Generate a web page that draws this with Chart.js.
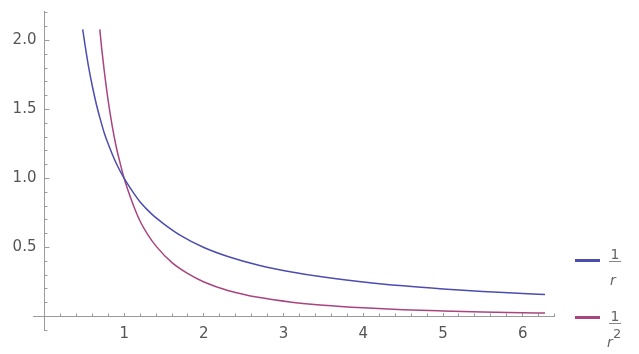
<!DOCTYPE html>
<html><head><meta charset="utf-8">
<script src="https://cdn.jsdelivr.net/npm/chart.js@4/dist/chart.umd.min.js"></script>
<style>html,body{margin:0;padding:0;background:#fff}#wrap{width:639px;height:354px;position:relative}</style>
</head><body><div id="wrap"><canvas id="c" width="639" height="354"></canvas></div>
<script>
// ---- data ----
const rInv      = [0.48,0.5,0.55,0.6,0.65,0.7,0.75,0.8,0.9,1.0,1.1,1.2,1.35,1.5,1.7,2.0,2.3,2.7,3.1,3.5,4.0,4.5,5.0,5.5,6.0,6.28];
const valInv    = [2.08,2.0,1.82,1.67,1.54,1.43,1.33,1.25,1.11,1.0,0.91,0.83,0.74,0.67,0.59,0.5,0.435,0.37,0.323,0.286,0.25,0.222,0.2,0.182,0.167,0.159];
const rInvSq    = [0.694,0.72,0.75,0.8,0.85,0.9,0.95,1.0,1.1,1.2,1.3,1.4,1.6,1.8,2.0,2.3,2.7,3.1,3.5,4.0,4.5,5.0,5.5,6.0,6.28];
const valInvSq  = [2.08,1.93,1.78,1.56,1.38,1.23,1.11,1.0,0.83,0.69,0.59,0.51,0.39,0.31,0.25,0.189,0.137,0.104,0.082,0.063,0.049,0.04,0.033,0.028,0.025];
const seriesNames = ['1/r','1/r²'];
const legendNum = ['1','1'];
const legendDen = ['r','r'];
const legendSup = ['','2'];
const xMajorTicks = [1,2,3,4,5,6];
const xTickLabels = ['1','2','3','4','5','6'];
const xMinorTicks = [0.2,0.4,0.6,0.8,1.2,1.4,1.6,1.8,2.2,2.4,2.6,2.8,3.2,3.4,3.6,3.8,4.2,4.4,4.6,4.8,5.2,5.4,5.6,5.8,6.2,6.4];
const yMajorTicks = [0.5,1.0,1.5,2.0];
const yTickLabels = ['0.5','1.0','1.5','2.0'];
const yMinorTicks = [-0.1,0.1,0.2,0.3,0.4,0.6,0.7,0.8,0.9,1.1,1.2,1.3,1.4,1.6,1.7,1.8,1.9,2.1,2.2];

const BLUE = '#4d4db0';
const RED  = '#a8457f';
const colors = [BLUE, RED];
const AX = '#9a9a9a';
const LBL = '#555555';
Chart.defaults.font.family = "'DejaVu Sans'";

const X_MIN = -0.144, X_MAX = 6.4, Y_MIN = -0.1, Y_MAX = 2.21;

function axisX(ticks, labels, len, show) {
  return {
    type: 'linear', min: X_MIN, max: X_MAX, position: {y: 0},
    afterFit: s => { s.height = 0; s.paddingLeft = 0; s.paddingRight = 0; s.paddingTop = 0; s.paddingBottom = 0; },
    afterBuildTicks: s => { s.ticks = ticks.map(v => ({value: v})); },
    grid: {drawOnChartArea: false, drawTicks: true, tickLength: -len, tickColor: AX, tickWidth: 1},
    border: {display: show, color: AX, width: 1},
    ticks: {autoSkip: false, maxRotation: 0, padding: 13, color: LBL, font: {size: 15},
      callback: (v, i) => labels ? labels[i] : ''}
  };
}
function axisY(ticks, labels, len, show) {
  return {
    type: 'linear', min: Y_MIN, max: Y_MAX, position: 'left',
    afterFit: s => { s.width = 0; s.paddingLeft = 0; s.paddingRight = 0; s.paddingTop = 0; s.paddingBottom = 0; },
    afterBuildTicks: s => { s.ticks = ticks.map(v => ({value: v})); },
    grid: {drawOnChartArea: false, drawTicks: true, tickLength: -len, tickColor: AX, tickWidth: 1},
    border: {display: show, color: AX, width: 1},
    ticks: {autoSkip: false, padding: len + 8, color: LBL, font: {size: 15},
      callback: (v, i) => labels ? labels[i] : ''}
  };
}

// put the vertical axis on x = 0 (axes cross at the origin)
const crossAxes = {
  id: 'crossAxes',
  afterLayout(chart) {
    const px = chart.scales.x.getPixelForValue(0);
    ['y', 'y2'].forEach(id => { const s = chart.scales[id]; s.left = 0; s.right = px; s.width = px; });
  }
};

const legendPlugin = {
  id: 'fracLegend',
  afterDraw(chart) {
    const ctx = chart.ctx;
    const lineY = [260.5, 317.5];
    const barY = [261.5, 323.5];
    ctx.save();
    for (let i = 0; i < seriesNames.length; i++) {
      ctx.strokeStyle = colors[i];
      ctx.lineWidth = 3;
      ctx.beginPath(); ctx.moveTo(575, lineY[i]); ctx.lineTo(600, lineY[i]); ctx.stroke();
      ctx.strokeStyle = '#888'; ctx.lineWidth = 1;
      ctx.beginPath(); ctx.moveTo(609, barY[i]); ctx.lineTo(621, barY[i]); ctx.stroke();
      ctx.fillStyle = '#666';
      ctx.textBaseline = 'alphabetic';
      ctx.textAlign = 'center';
      ctx.font = "14px 'DejaVu Sans'";
      ctx.fillText(legendNum[i], 615, barY[i] - 3);
      ctx.textAlign = 'left';
      ctx.font = "italic 14px 'DejaVu Sans'";
      ctx.fillText(legendDen[i], legendSup[i] ? 607 : 610, barY[i] + 23);
      if (legendSup[i]) {
        ctx.font = "13px 'DejaVu Sans'";
        ctx.fillText(legendSup[i], 613, barY[i] + 14);
      }
    }
    ctx.restore();
  }
};

new Chart(document.getElementById('c'), {
  type: 'scatter',
  data: {
    datasets: [
      {label: seriesNames[0], data: rInv.map((r, i) => ({x: r, y: valInv[i]})), xAxisID: 'x', yAxisID: 'y'},
      {label: seriesNames[1], data: rInvSq.map((r, i) => ({x: r, y: valInvSq[i]})), xAxisID: 'x', yAxisID: 'y'}
    ].map((d, i) => Object.assign(d, {showLine: true, borderColor: colors[i], backgroundColor: colors[i],
      borderWidth: 1.5, pointRadius: 0, cubicInterpolationMode: 'monotone', fill: false}))
  },
  options: {
    responsive: false, animation: false, events: [],
    layout: {padding: {left: 33, right: 84.4, top: 11.5, bottom: 23.7}},
    plugins: {legend: {display: false}, tooltip: {enabled: false}},
    scales: {
      x: axisX(xMajorTicks, xTickLabels, 4, true),
      x2: axisX(xMinorTicks, null, 2.5, false),
      y: axisY(yMajorTicks, yTickLabels, 5, true),
      y2: axisY(yMinorTicks, null, 3, false)
    }
  },
  plugins: [crossAxes, legendPlugin]
});
</script>
</body></html>
